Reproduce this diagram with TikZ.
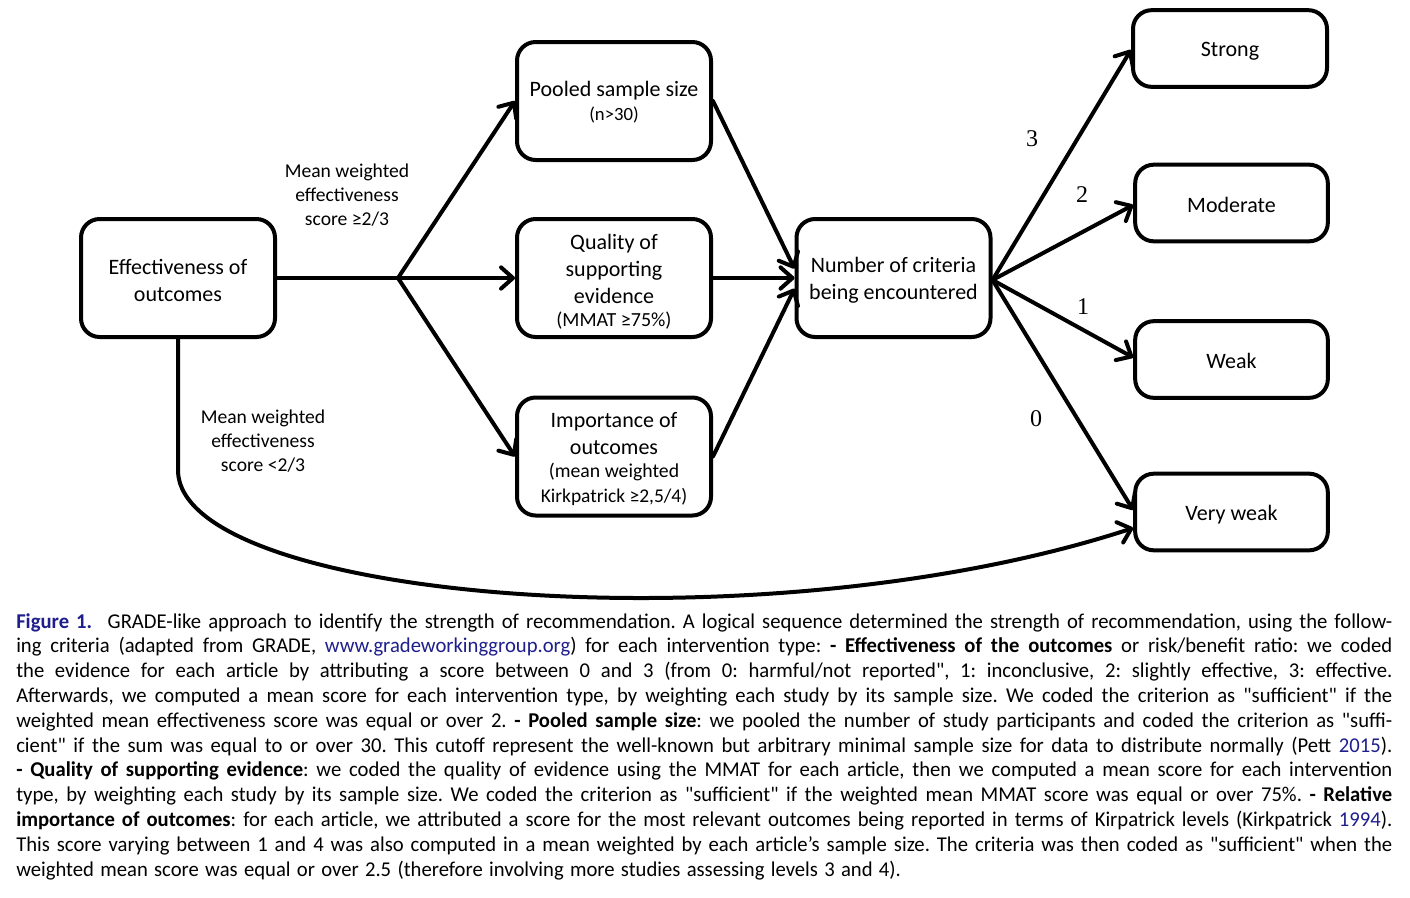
\documentclass[tikz,border=0pt]{standalone}
\usepackage{fontspec}
\setmainfont{Carlito}
\newfontfamily\numfont{Liberation Serif}
\newfontfamily\capfont[FakeStretch=0.98]{Carlito}
\usetikzlibrary{arrows.meta}
\definecolor{linkblue}{RGB}{30,30,140}
\newcommand\mydown[1]{\rule{0pt}{#1}}
\tikzset{
  box/.style={draw, line width=3pt, rounded corners=14pt, minimum width=145.5pt, align=center, inner sep=2pt},
  conn/.style={line width=3pt, line cap=round, line join=round},
  arr/.style={conn, -{Straight Barb[length=9pt,width=16pt,line width=3pt,round]}},
  lbl/.style={font=\fontsize{14.7}{18}\selectfont, align=center},
  num/.style={font=\numfont\fontsize{18}{20}\selectfont},
  big/.style={font=\fontsize{16.5}{20.3}\selectfont},
}
\begin{document}
\begin{tikzpicture}[x=0.75pt,y=-0.75pt]
\useasboundingbox (0,0) rectangle (1410,897);
% nodes
\node[box, big, minimum height=88.5pt] (eff) at (178,278) {\mydown{14.5pt}Effectiveness of\\outcomes};
\node[box, big, minimum height=88.5pt] (pool) at (614,101) {\mydown{13pt}Pooled sample size\\[-2pt]{\fontsize{14}{16}\selectfont (n>30)}};
\node[box, big, minimum height=88.5pt] (qual) at (614,278) {\mydown{17pt}Quality of\\supporting\\evidence\\[-3pt]{\fontsize{15}{16}\selectfont (MMAT ≥75\%)}};
\node[box, big, minimum height=88.5pt] (imp) at (614,456.5) {\mydown{15pt}Importance of\\outcomes\\[-3pt]{\fontsize{14.8}{18}\selectfont (mean weighted}\\[-2pt]{\fontsize{14.6}{18}\selectfont Kirkpatrick ≥2,5/4)}};
\node[box, big, minimum height=88.5pt] (num) at (893.5,278) {\mydown{14.5pt}Number of criteria\\being encountered};
\node[box, big, minimum height=57.5pt] (strong) at (1230,48.5) {\mydown{15pt}Strong};
\node[box, big, minimum height=57.5pt, minimum width=144.5pt] (mod) at (1231.5,203) {\mydown{14pt}Moderate};
\node[box, big, minimum height=57.5pt, minimum width=144.5pt] (weak) at (1231.5,359.5) {\mydown{13pt}Weak};
\node[box, big, minimum height=57.5pt, minimum width=144.5pt] (vweak) at (1231.5,512) {\mydown{15pt}Very weak};
% connectors
\coordinate (br) at (398,278);
\draw[conn] (eff.east) -- (br);
\draw[arr] (br) -- (pool.west);
\draw[arr] (br) -- (qual.west);
\draw[arr] (br) -- (imp.west);
\draw[arr] (pool.east) -- ([yshift=7pt]num.west);
\draw[arr] (qual.east) -- (num.west);
\draw[arr] (imp.east) -- ([yshift=-8pt]num.west);
\coordinate (nr) at ([yshift=-1.5pt]num.east);
\draw[arr] (nr) -- ([yshift=-1pt]strong.west);
\draw[arr] (nr) -- ([yshift=-1.5pt]mod.west);
\draw[arr] (nr) -- ([yshift=1.5pt]weak.west);
\draw[arr] (nr) -- ([yshift=1.5pt]vweak.west);
\coordinate (cd) at (178,470);
\draw[arr] (eff.south) -- (cd) .. controls (178,600) and (760,650) .. ([yshift=-12pt]vweak.west);
% labels
\node[lbl] (l1) at (347,195) {Mean weighted\\effectiveness\\score ≥2/3};
\node[lbl] (l2) at (263,441) {Mean weighted\\effectiveness\\score <2/3};
\node[num] (n3) at (1032,139) {3};
\node[num] (n2) at (1082,195) {2};
\node[num] (n1) at (1083,307) {1};
\node[num] (n0) at (1036,419) {0};
% caption
\node[anchor=north west, inner sep=0pt, text width=1032pt, align=justify,
      font=\capfont\fontsize{15.8}{18.6}\selectfont] (cap) at (16,613) {\frenchspacing\spaceskip=0.3em plus 0.25em minus 0.06em\relax%
\textcolor{linkblue}{\textbf{Figure 1.}}\hspace{0.4em} GRADE-like approach to identify the strength of recommendation. A logical sequence determined the strength of recommendation, using the follow-\linebreak
ing criteria (adapted from GRADE, \textcolor{linkblue}{www.gradeworkinggroup.org}) for each intervention type: \textbf{- Effectiveness of the outcomes} or risk/benefit ratio: we coded\linebreak
the evidence for each article by attributing a score between 0 and 3 (from 0: harmful/not reported", 1: inconclusive, 2: slightly effective, 3: effective.\linebreak
Afterwards, we computed a mean score for each intervention type, by weighting each study by its sample size. We coded the criterion as "sufficient" if the\linebreak
weighted mean effectiveness score was equal or over 2. \textbf{- Pooled sample size}: we pooled the number of study participants and coded the criterion as "suffi-\linebreak
cient" if the sum was equal to or over 30. This cutoff represent the well-known but arbitrary minimal sample size for data to distribute normally (Pett \textcolor{linkblue}{2015}).\linebreak
\textbf{- Quality of supporting evidence}: we coded the quality of evidence using the MMAT for each article, then we computed a mean score for each intervention\linebreak
type, by weighting each study by its sample size. We coded the criterion as "sufficient" if the weighted mean MMAT score was equal or over 75\%. \textbf{- Relative}\linebreak
\textbf{importance of outcomes}: for each article, we attributed a score for the most relevant outcomes being reported in terms of Kirpatrick levels (Kirkpatrick \textcolor{linkblue}{1994}).\linebreak
This score varying between 1 and 4 was also computed in a mean weighted by each article’s sample size. The criteria was then coded as "sufficient" when the\linebreak
weighted mean score was equal or over 2.5 (therefore involving more studies assessing levels 3 and 4).};
\end{tikzpicture}
\end{document}
